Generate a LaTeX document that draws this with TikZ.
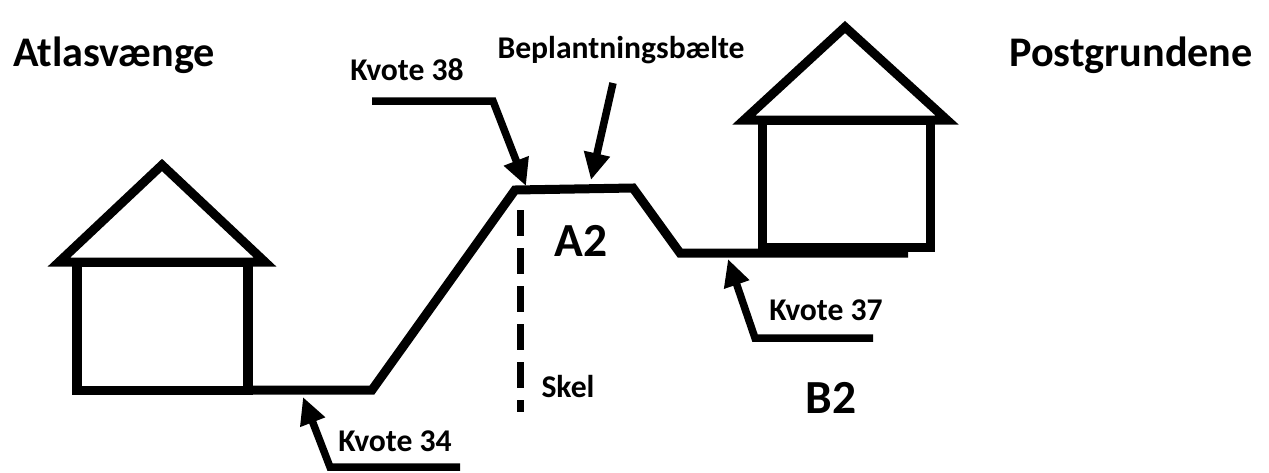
\documentclass[tikz,border=0pt]{standalone}
\usepackage{fontspec}
\setmainfont{Carlito}
\usetikzlibrary{arrows.meta}

\begin{document}
\begin{tikzpicture}[x=0.01cm,y=-0.01cm,
  line/.style={line width=0.09cm, line join=miter},
  pil/.style={line width=0.075cm, -{Triangle[length=0.27cm,width=0.25cm]}},
  lbl/.style={font=\bfseries\fontsize{9}{10}\selectfont, inner sep=0},
  big/.style={font=\bfseries\fontsize{12}{14}\selectfont, inner sep=0},
  felt/.style={font=\bfseries\fontsize{13.5}{15}\selectfont, inner sep=0}]
\useasboundingbox (0,0) rectangle (1269,472);

% terrain profile
\coordinate (g1) at (248,390) ;
\coordinate (g2) at (372,390) ;
\coordinate (g3) at (515,190) ;
\coordinate (g4) at (633,188) ;
\coordinate (g5) at (680,253) ;
\coordinate (g6) at (908,253) ;
\draw [line] (g1) -- (g2) -- (g3) -- (g4) -- (g5) -- (g6) ;

% houses
\draw [line] (59,262) -- (162,165) -- (265,262) -- cycle ;
\draw [line] (77,262) rectangle (248,390) ;
\draw [line] (744,120) -- (845,27) -- (947,120) -- cycle ;
\draw [line] (762,120) rectangle (930,247) ;

% boundary
\coordinate (s1) at (520,210) ;
\coordinate (s2) at (520,412) ;
\draw [line width=0.07cm, dash pattern=on 0.26cm off 0.12cm] (s1) -- (s2) ;

% labels
\node [big] (atlas) at (114,55) {Atlasvænge} ;
\node [big] (post) at (1131,55) {Postgrundene} ;
\node [lbl] (k38) at (407,70) {Kvote 38} ;
\node [lbl] (bepl) at (621,50) {Beplantningsbælte} ;
\node [felt] (a2) at (581,241) {A2} ;
\node [felt] (b2) at (831,398) {B2} ;
\node [lbl] (skel) at (568,387) {Skel} ;
\node [lbl] (k37) at (826,310) {Kvote 37} ;
\node [lbl] (k34) at (395,441) {Kvote 34} ;

% arrows
\coordinate (a38s) at (372,101) ;
\coordinate (a38k) at (493,101) ;
\coordinate (a38t) at (526,186) ;
\draw [pil] (a38s) -- (a38k) -- (a38t) ;
\coordinate (abs) at (613,83) ;
\coordinate (abt) at (591,180) ;
\draw [pil] (abs) -- (abt) ;
\coordinate (a34s) at (460,467) ;
\coordinate (a34k) at (330,467) ;
\coordinate (a34t) at (303,397) ;
\draw [pil] (a34s) -- (a34k) -- (a34t) ;
\coordinate (a37s) at (873,338) ;
\coordinate (a37k) at (755,338) ;
\coordinate (a37t) at (728,259) ;
\draw [pil] (a37s) -- (a37k) -- (a37t) ;
\end{tikzpicture}
\end{document}
